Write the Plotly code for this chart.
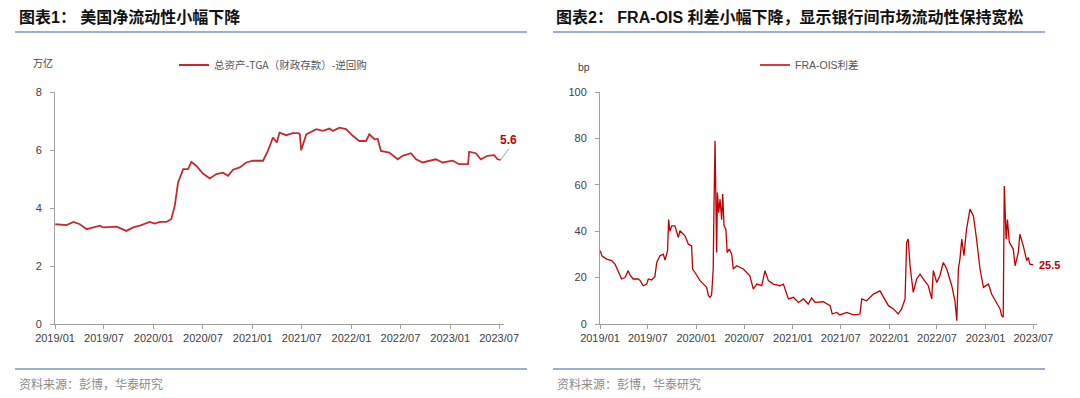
import plotly.graph_objects as go

# ---------------- data ----------------
liq_dates = ["2019-01-02","2019-02-13","2019-03-10","2019-04-03","2019-04-28","2019-06-16","2019-06-28",
             "2019-08-17","2019-09-22","2019-10-17","2019-11-11","2019-12-17","2020-01-05","2020-01-23",
             "2020-02-17","2020-03-06","2020-03-19","2020-03-31","2020-04-19","2020-05-07","2020-05-19",
             "2020-06-07","2020-07-01","2020-07-26","2020-08-20","2020-09-13","2020-10-02","2020-10-20",
             "2020-11-14","2020-12-08","2021-01-02","2021-02-08","2021-02-26","2021-03-17","2021-03-31",
             "2021-04-10","2021-05-05","2021-05-29","2021-06-17","2021-06-24","2021-06-29","2021-07-18",
             "2021-08-24","2021-09-17","2021-10-12","2021-10-24","2021-11-18","2021-12-12","2022-01-06",
             "2022-01-30","2022-02-24","2022-03-08","2022-03-27","2022-04-08","2022-04-20","2022-05-21",
             "2022-06-21","2022-07-09","2022-08-09","2022-08-28","2022-09-21","2022-10-16","2022-11-09",
             "2022-12-04","2023-01-10","2023-02-03","2023-02-28","2023-03-08","2023-03-12","2023-04-06",
             "2023-04-24","2023-05-19","2023-06-13","2023-06-25","2023-07-07"]
liq_values = [3.44,3.41,3.52,3.44,3.27,3.39,3.33,
              3.36,3.21,3.33,3.39,3.52,3.46,3.52,
              3.52,3.62,4.08,4.88,5.34,5.34,5.59,
              5.45,5.19,5.02,5.17,5.22,5.11,5.32,
              5.40,5.57,5.63,5.63,5.97,6.43,6.26,
              6.60,6.51,6.58,6.58,6.55,5.99,6.54,
              6.72,6.66,6.74,6.66,6.77,6.72,6.49,
              6.31,6.31,6.54,6.37,6.39,5.97,5.91,
              5.68,5.80,5.89,5.68,5.57,5.63,5.68,
              5.57,5.63,5.51,5.51,5.51,5.94,5.89,
              5.68,5.80,5.82,5.68,5.66]

fra_dates = ["2019-01-02","2019-01-08","2019-01-26","2019-02-14","2019-02-27","2019-03-05","2019-03-18",
             "2019-03-24","2019-04-06","2019-04-18","2019-04-25","2019-05-07","2019-05-26","2019-06-02",
             "2019-06-14","2019-06-27","2019-07-03","2019-07-16","2019-07-28","2019-08-04","2019-08-16",
             "2019-08-29","2019-09-04","2019-09-14","2019-09-18","2019-09-23","2019-09-30","2019-10-12",
             "2019-10-25","2019-10-31","2019-11-19","2019-12-02","2019-12-14","2019-12-18","2019-12-27",
             "2020-01-15","2020-01-28","2020-02-09","2020-02-16","2020-02-22","2020-02-28","2020-03-05",
             "2020-03-08","2020-03-12","2020-03-14","2020-03-18","2020-03-21","2020-03-26","2020-03-31",
             "2020-04-06","2020-04-10","2020-04-15","2020-04-22","2020-04-27","2020-05-05","2020-05-14",
             "2020-05-20","2020-06-02","2020-06-27","2020-07-22","2020-08-04","2020-08-17","2020-09-05",
             "2020-09-17","2020-09-30","2020-10-19","2020-11-13","2020-11-26","2020-12-15","2021-01-03",
             "2021-01-22","2021-02-10","2021-02-28","2021-03-13","2021-03-26","2021-04-26","2021-05-22",
             "2021-05-30","2021-06-16","2021-06-28","2021-07-24","2021-08-18","2021-09-12","2021-09-19",
             "2021-10-07","2021-11-02","2021-11-27","2021-12-10","2021-12-29","2022-01-17","2022-02-04",
             "2022-02-17","2022-03-02","2022-03-08","2022-03-14","2022-03-21","2022-04-02","2022-04-15",
             "2022-04-28","2022-05-10","2022-05-29","2022-06-11","2022-06-17","2022-06-30","2022-07-12",
             "2022-07-25","2022-08-07","2022-08-26","2022-09-07","2022-09-14","2022-09-20","2022-09-26",
             "2022-10-03","2022-10-11","2022-10-21","2022-11-03","2022-11-16","2022-11-28","2022-12-11",
             "2022-12-24","2023-01-12","2023-01-24","2023-02-12","2023-02-25","2023-03-03","2023-03-09",
             "2023-03-13","2023-03-20","2023-03-25","2023-04-01","2023-04-16","2023-04-23","2023-05-05",
             "2023-05-11","2023-05-24","2023-05-30","2023-06-06","2023-06-12","2023-06-18","2023-07-01"]
fra_values = [31.6,29.4,28.0,27.3,25.8,24.4,20.8,
              19.4,20.0,23.0,21.0,19.4,19.4,18.7,
              16.5,17.2,19.4,19.0,20.4,26.5,29.4,
              30.1,27.5,31.6,45.0,40.0,42.3,42.3,
              37.3,40.2,38.0,34.4,33.7,23.7,22.2,
              18.7,17.2,15.8,12.2,11.5,12.5,23.7,
              51.0,79.0,62.0,30.8,56.7,48.0,53.8,
              45.0,56.0,42.3,40.9,30.8,32.3,30.1,
              23.7,25.1,23.7,20.8,15.0,17.2,16.5,
              23.0,18.7,17.2,16.5,17.2,10.8,11.5,
              9.3,10.8,8.6,11.2,9.3,9.6,7.9,
              4.3,5.0,3.9,5.0,3.9,4.3,10.8,
              10.0,12.9,14.3,11.5,7.9,6.5,4.3,
              6.5,10.8,35.2,36.6,25.1,13.6,19.4,
              21.5,19.4,16.5,10.8,23.0,17.9,20.8,
              26.5,23.7,16.5,10.0,1.4,23.7,28.0,
              36.6,29.4,40.9,49.5,46.6,36.6,23.7,
              15.8,17.2,12.9,9.3,6.5,3.6,2.9,
              59.5,36.6,45.0,35.2,32.3,25.1,30.8,
              38.7,33.7,30.8,27.3,28.7,25.8,25.5]

tick_dates = ["2019-01-01","2019-07-01","2020-01-01","2020-07-01","2021-01-01",
              "2021-07-01","2022-01-01","2022-07-01","2023-01-01","2023-07-01"]
tick_labels = ["2019/01","2019/07","2020/01","2020/07","2021/01",
               "2021/07","2022/01","2022/07","2023/01","2023/07"]
liq_yticks = [0, 2, 4, 6, 8]
fra_yticks = [0, 20, 40, 60, 80, 100]

title1 = "图表1： 美国净流动性小幅下降"
title2 = "图表2： FRA-OIS 利差小幅下降，显示银行间市场流动性保持宽松"
source = "资料来源：彭博，华泰研究"
liq_name = "总资产-TGA（财政存款）-逆回购"
fra_name = "FRA-OIS利差"
liq_last_label = "5.6"
fra_last_label = "25.5"

# ---------------- figure ----------------
W, H = 1080, 398
FONT = "Liberation Sans, Arial, Noto Sans CJK SC, sans-serif"
CJK = "Noto Sans CJK SC, sans-serif"

def px(x):
    return x / W

def py(y):
    return 1 - y / H

fig = go.Figure()
fig.add_trace(go.Scatter(x=liq_dates, y=liq_values, mode="lines", name=liq_name,
                         line=dict(color="#C62A30", width=1.8), xaxis="x", yaxis="y",
                         legend="legend"))
fig.add_trace(go.Scatter(x=fra_dates, y=fra_values, mode="lines", name=fra_name,
                         line=dict(color="#C00000", width=1.3), xaxis="x2", yaxis="y2",
                         legend="legend2"))

axis_common = dict(showgrid=False, zeroline=False, showline=True, linecolor="#A0A0A0",
                   linewidth=1, ticks="outside", ticklen=4, tickcolor="#A0A0A0",
                   automargin=False,
                   tickfont=dict(family=FONT, size=11, color="#404040"))

fig.update_layout(
    template="none",
    width=W, height=H, margin=dict(l=0, r=0, t=0, b=0, pad=0, autoexpand=False),
    paper_bgcolor="white", plot_bgcolor="white",
    showlegend=True,
    xaxis=dict(domain=[px(55), px(504)], type="date", range=["2019-01-01", "2023-07-19"],
               tickvals=tick_dates, ticktext=tick_labels, anchor="y", **axis_common),
    yaxis=dict(domain=[py(324), py(92)], range=[0, 8], tickvals=liq_yticks, anchor="x",
               ticklabelstandoff=6, **axis_common),
    xaxis2=dict(domain=[px(600), px(1037)], type="date", range=["2019-01-01", "2023-07-15"],
                tickvals=tick_dates, ticktext=tick_labels, anchor="y2", **axis_common),
    yaxis2=dict(domain=[py(324), py(92)], range=[0, 100], tickvals=fra_yticks, anchor="x2",
                ticklabelstandoff=6, **axis_common),
    legend=dict(x=px(174), y=py(65), xanchor="left", yanchor="middle", orientation="h",
                bgcolor="rgba(0,0,0,0)", font=dict(family=CJK, size=10.5, color="#555555")),
    legend2=dict(x=px(755), y=py(65), xanchor="left", yanchor="middle", orientation="h",
                 bgcolor="rgba(0,0,0,0)", font=dict(family=FONT, size=10.5, color="#555555")),
)

ann = []
ann.append(dict(text="<b>" + title1 + "</b>", x=px(17), y=py(17), xref="paper", yref="paper",
                xanchor="left", yanchor="middle", showarrow=False,
                font=dict(family=FONT, size=16, color="#111111")))
ann.append(dict(text="<b>" + title2 + "</b>", x=px(554), y=py(17), xref="paper", yref="paper",
                xanchor="left", yanchor="middle", showarrow=False,
                font=dict(family=FONT, size=16, color="#111111")))
for xs in (17, 555):
    ann.append(dict(text=source, x=px(xs), y=py(383), xref="paper", yref="paper",
                    xanchor="left", yanchor="middle", showarrow=False,
                    font=dict(family=CJK, size=12, color="#8A8A8A")))
ann.append(dict(text="万亿", x=px(43), y=py(63), xref="paper", yref="paper",
                xanchor="center", yanchor="middle", showarrow=False,
                font=dict(family=CJK, size=10, color="#444444")))
ann.append(dict(text="bp", x=px(584), y=py(67), xref="paper", yref="paper",
                xanchor="center", yanchor="middle", showarrow=False,
                font=dict(family=FONT, size=10.5, color="#444444")))
# end-value labels
ann.append(dict(text="<b>" + liq_last_label + "</b>", x=liq_dates[-1], y=liq_values[-1],
                xref="x", yref="y", ax=8, ay=-11, axref="pixel", ayref="pixel",
                showarrow=True, arrowhead=0, arrowwidth=1, arrowcolor="#A0A0A0",
                xanchor="center", yanchor="bottom",
                font=dict(family=FONT, size=12, color="#C00000")))
ann.append(dict(text="<b>" + fra_last_label + "</b>", x=fra_dates[-1], y=fra_values[-1],
                xref="x2", yref="y2", xanchor="left", yanchor="middle", xshift=4,
                showarrow=False, font=dict(family=FONT, size=11, color="#C00000")))
fig.update_layout(annotations=ann)

shapes = []
for (x0, x1) in ((15, 527), (553, 1045)):
    for yy in (32, 369):
        shapes.append(dict(type="line", xref="paper", yref="paper", x0=px(x0), x1=px(x1),
                           y0=py(yy), y1=py(yy), line=dict(color="#9BB0CC", width=2)))
fig.update_layout(shapes=shapes)

fig.write_html("out.html", config={"displayModeBar": False},
               post_script="document.body.style.margin='0';document.body.style.padding='0';")
